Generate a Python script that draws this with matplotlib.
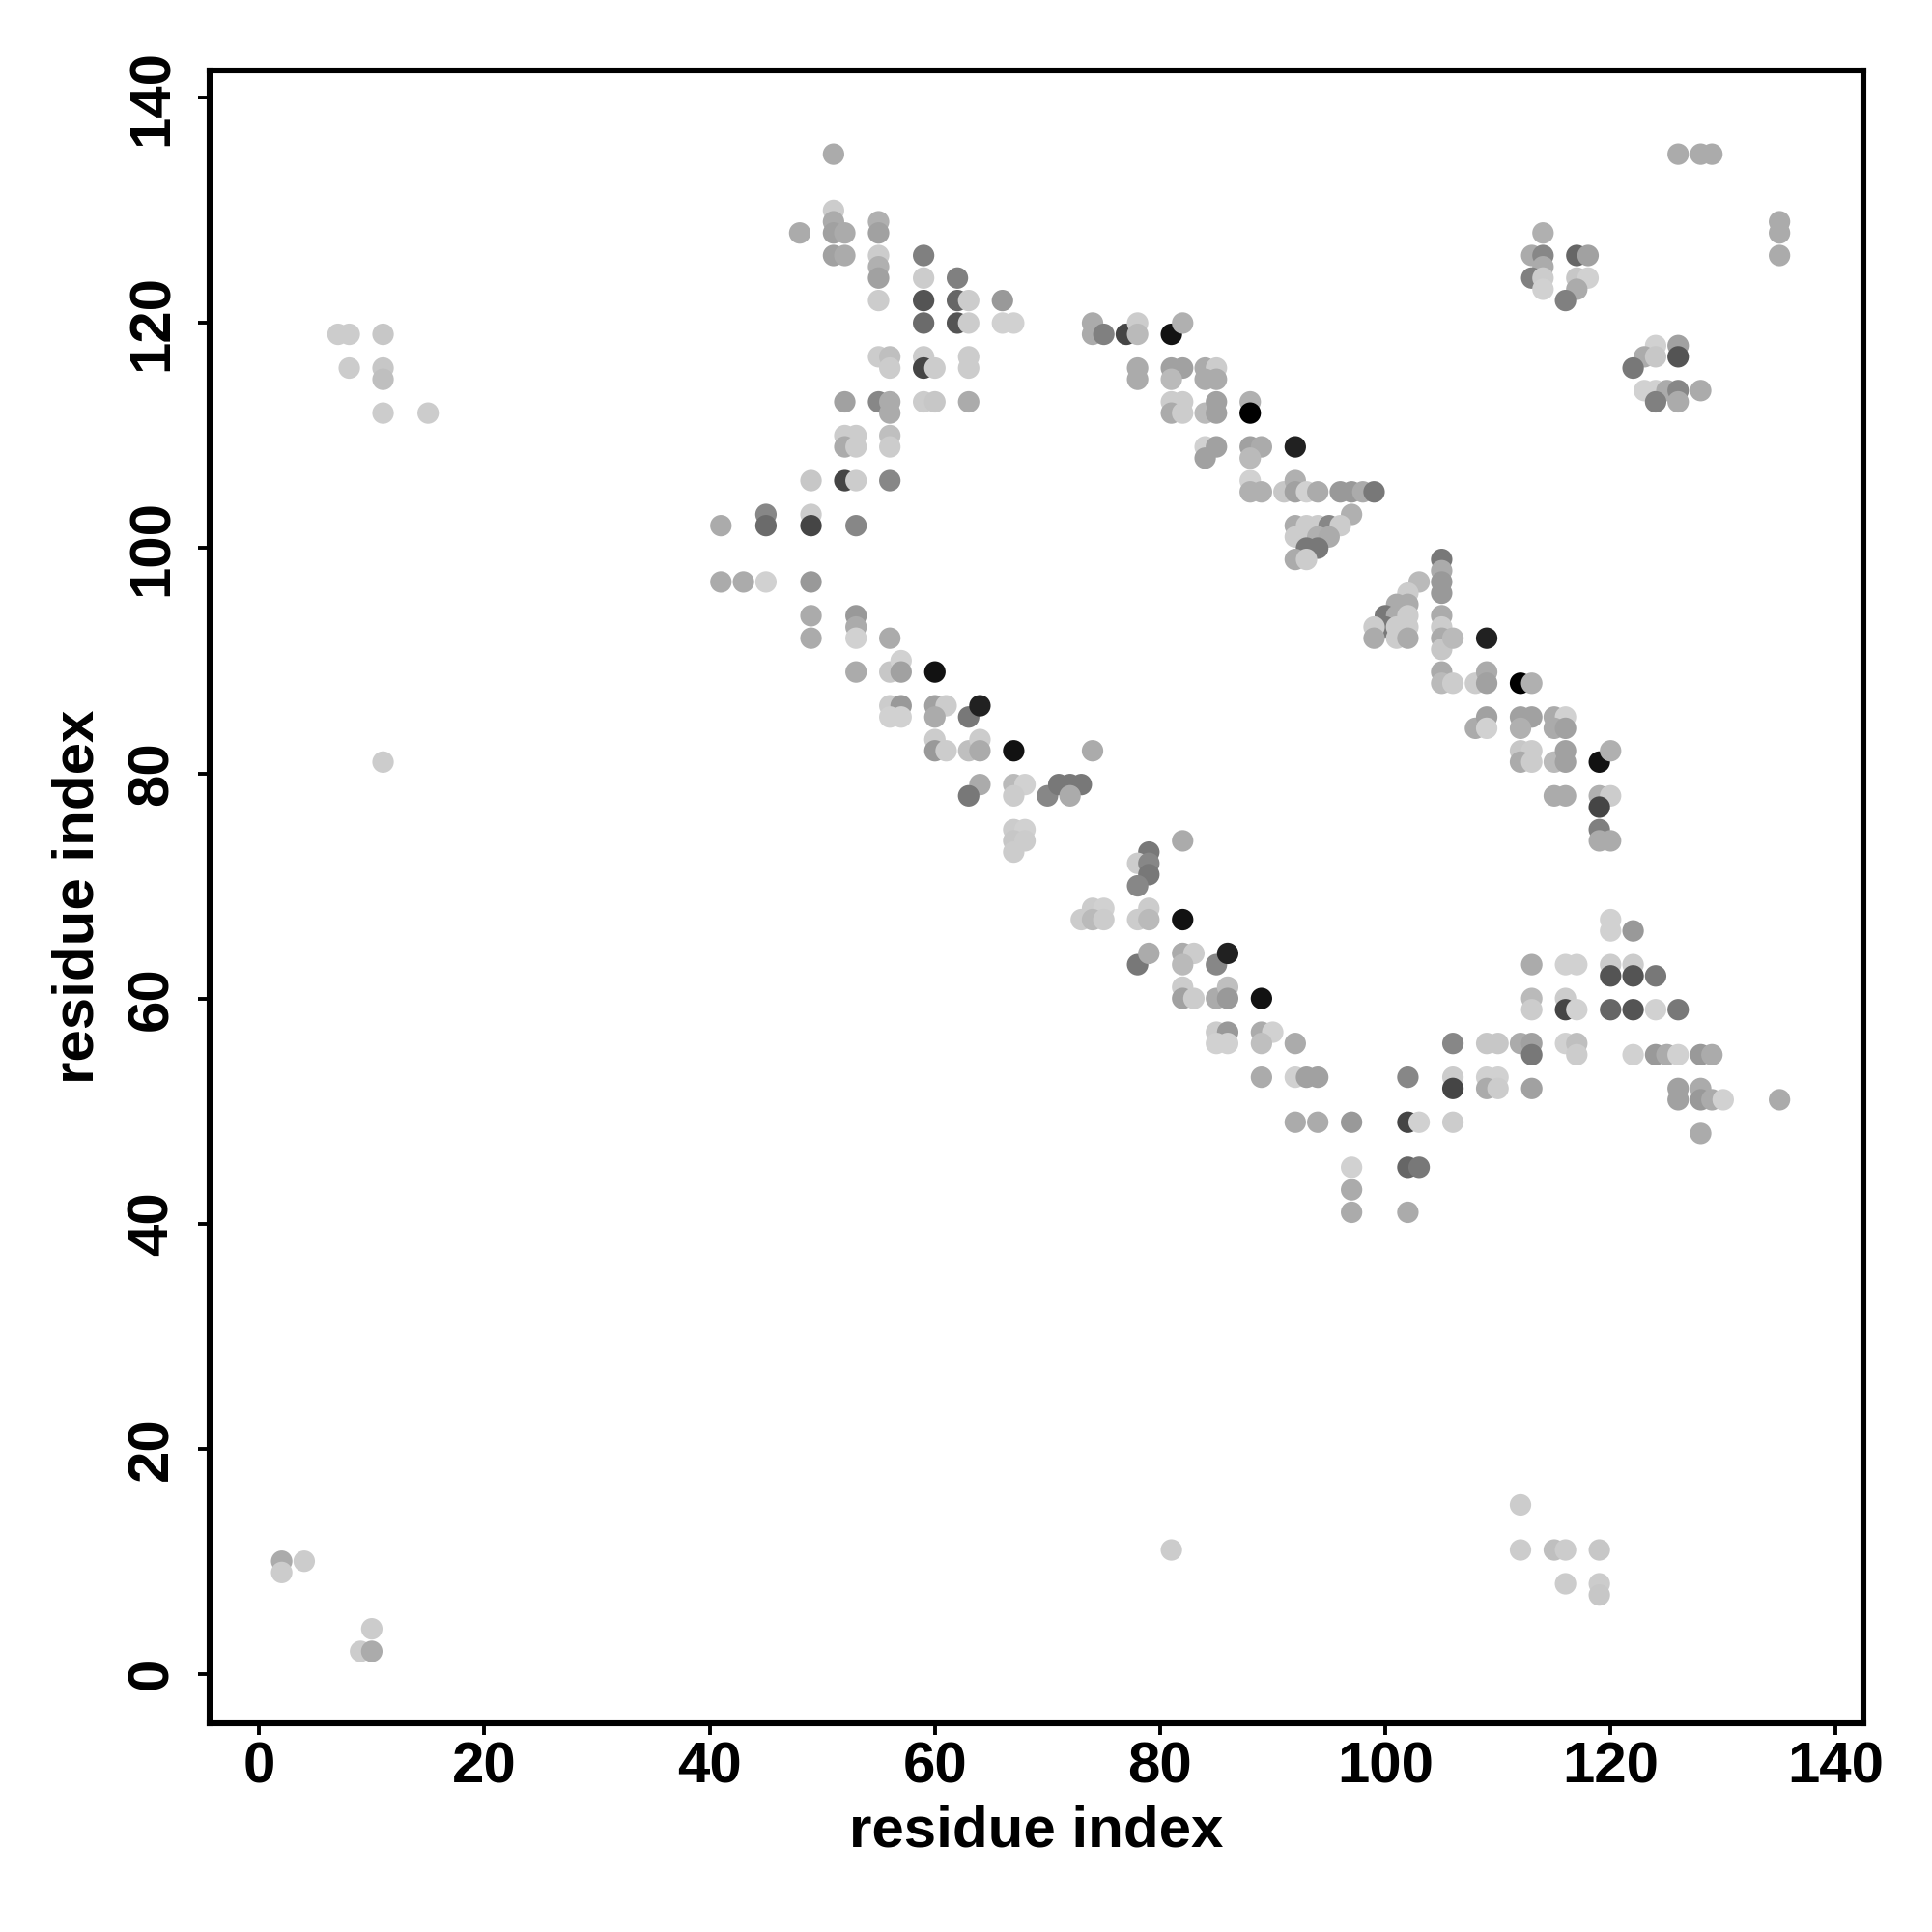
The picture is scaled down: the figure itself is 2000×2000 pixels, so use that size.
import matplotlib
matplotlib.use("Agg")
import matplotlib.pyplot as plt

# contact points: residue i (x), residue j (y), grey level (0 = black, 1 = white)
pts = [
    # upper-left block of the main band
    (51,135,.67),(51,130,.80),(51,129,.67),(51,128,.63),(48,128,.67),(52,128,.67),(55,129,.69),(55,128,.63),
    (51,126,.63),(52,126,.67),(55,126,.80),(55,125,.69),(55,124,.63),(55,122,.80),(59,126,.50),(59,124,.80),
    (62,124,.50),(59,122,.33),(62,122,.40),(63,122,.80),(66,122,.60),(59,120,.42),(62,120,.33),(63,120,.80),
    (66,120,.82),(67,120,.82),(55,117,.80),(56,117,.75),(56,116,.80),(59,117,.80),(59,116,.27),(60,116,.80),
    (63,117,.80),(63,116,.80),(52,113,.63),(55,113,.53),(56,113,.67),(56,112,.67),(59,113,.80),(60,113,.78),
    (63,113,.67),(52,110,.80),(53,110,.80),(52,109,.67),(53,109,.80),(56,110,.75),(56,109,.80),(49,106,.78),
    (52,106,.27),(53,106,.80),(56,106,.53),
    (41,102,.67),(45,103,.53),(45,102,.42),(49,103,.80),(49,102,.27),(53,102,.53),(41,97,.67),(43,97,.67),
    (45,97,.82),(49,97,.60),(49,94,.67),(49,92,.67),(53,94,.60),(53,93,.67),(53,92,.82),(56,92,.67),
    (53,89,.67),(56,89,.78),(57,90,.82),(57,89,.63),(60,89,.07),(56,86,.80),(57,86,.60),(56,85,.82),
    (57,85,.82),(60,86,.63),(61,86,.80),(60,85,.67),(63,85,.47),(64,86,.13),(60,83,.80),(60,82,.60),
    (61,82,.80),(63,82,.75),(64,83,.80),(64,82,.67),(67,82,.07),(64,79,.67),(63,78,.47),(67,79,.73),
    (68,79,.82),(67,78,.80),(70,78,.53),(71,79,.47),(72,79,.47),(73,79,.47),(72,78,.67),(67,75,.80),
    (68,75,.82),(67,74,.78),(68,74,.80),(67,73,.80),
    (74,120,.67),(74,119,.67),(75,119,.50),(77,119,.27),(78,120,.80),(78,119,.73),(81,119,.07),(82,120,.69),
    (78,116,.67),(78,115,.67),(81,116,.63),(82,116,.63),(81,115,.73),(84,116,.67),(85,116,.80),(84,115,.67),
    (85,115,.67),(81,113,.80),(82,113,.80),(81,112,.67),(82,112,.80),(84,112,.73),(85,113,.63),(85,112,.63),
    (88,113,.69),(88,112,.00),(84,109,.82),(85,109,.63),(84,108,.63),(88,109,.63),(89,109,.67),(88,108,.73),
    (92,109,.13),(88,106,.82),(88,105,.69),(89,105,.69),(91,105,.78),(92,106,.69),(92,105,.63),(93,105,.82),
    (94,105,.67),(96,105,.60),(97,105,.60),(98,105,.67),(99,105,.47),(97,103,.69),
    (92,102,.67),(93,102,.80),(94,102,.80),(95,102,.53),(96,102,.80),(92,101,.80),(93,101,.80),(94,101,.69),
    (95,101,.67),(93,100,.47),(94,100,.47),(92,99,.67),(93,99,.80),
    (105,99,.47),(105,98,.67),(105,97,.60),(105,96,.60),(103,97,.73),(102,96,.80),(102,95,.67),(101,95,.67),
    (100,94,.47),(101,94,.67),(102,94,.80),(100,93,.47),(99,93,.80),(101,93,.80),(102,93,.80),(99,92,.67),
    (101,92,.80),(102,92,.67),(105,94,.67),(105,93,.80),(105,92,.67),(105,91,.78),(105,89,.67),(105,88,.73),
    (74,82,.67),(82,74,.67),(79,73,.47),(78,72,.80),(79,72,.53),(79,71,.47),(78,70,.53),
    (106,92,.73),(109,92,.13),(106,88,.80),(108,88,.80),(109,89,.67),(109,88,.63),(112,88,.00),(113,88,.69),
    (108,84,.67),(109,85,.63),(109,84,.82),(112,85,.63),(113,85,.63),(112,84,.69),(115,85,.67),(116,85,.82),
    (115,84,.67),(116,84,.63),(112,82,.78),(113,82,.80),(112,81,.67),(113,81,.80),(115,81,.73),(116,82,.63),
    (116,81,.63),(119,81,.07),(120,82,.69),(115,78,.67),(116,78,.67),(119,78,.69),(120,78,.80),(119,77,.27),
    (119,75,.50),(119,74,.67),(120,74,.67),
    (74,68,.80),(75,68,.82),(73,67,.80),(74,67,.73),(75,67,.80),(78,67,.80),(79,68,.80),(79,67,.73),
    (82,67,.07),(78,63,.47),(79,64,.67),(82,64,.67),(83,64,.80),(82,63,.73),(85,63,.53),(86,64,.13),
    (82,61,.80),(82,60,.63),(83,60,.80),(85,60,.67),(86,61,.75),(86,60,.60),(89,60,.07),(85,57,.80),
    (86,57,.60),(85,56,.82),(86,56,.82),(89,57,.67),(90,57,.82),(89,56,.75),(92,56,.67),(89,53,.67),
    (92,53,.82),(93,53,.63),(94,53,.63),(102,53,.53),(92,49,.67),(94,49,.67),(97,49,.60),(102,49,.27),
    (103,49,.82),(97,45,.82),(97,43,.67),(97,41,.67),(102,45,.40),(103,45,.47),(102,41,.67),
    (120,67,.82),(120,66,.82),(122,66,.60),(113,63,.67),(116,63,.82),(117,63,.82),(120,63,.80),(122,63,.80),
    (120,62,.33),(122,62,.33),(124,62,.47),(113,60,.73),(113,59,.80),(116,60,.80),(116,59,.27),(117,59,.82),
    (120,59,.40),(122,59,.33),(124,59,.82),(126,59,.47),(106,56,.53),(109,56,.78),(110,56,.78),(112,56,.67),
    (113,56,.63),(113,55,.47),(116,56,.82),(117,56,.75),(117,55,.80),(122,55,.82),(124,55,.60),(125,55,.67),
    (126,55,.82),(128,55,.60),(129,55,.67),(106,53,.80),(106,52,.27),(109,53,.82),(110,53,.82),(109,52,.67),
    (110,52,.80),(113,52,.63),(126,52,.63),(126,51,.63),(128,52,.67),(128,51,.60),(129,51,.67),(130,51,.82),
    (135,51,.67),(128,48,.67),(106,49,.80),
    (126,135,.67),(128,135,.67),(129,135,.67),(135,129,.67),(135,128,.67),(135,126,.67),(114,128,.69),
    (113,126,.67),(114,126,.53),(114,125,.67),(113,124,.50),(114,124,.80),(114,123,.82),(117,126,.40),
    (118,126,.63),(117,124,.78),(118,124,.82),(117,123,.67),(116,122,.50),(124,118,.82),(126,118,.63),
    (123,117,.67),(124,117,.78),(126,117,.33),(122,116,.47),(123,114,.82),(124,114,.82),(125,114,.67),
    (126,114,.53),(128,114,.67),(124,113,.50),(126,113,.67),
    # isolated contacts
    (7,119,.80),(8,119,.80),(11,119,.78),(8,116,.80),(11,116,.78),(11,115,.75),(11,112,.80),(15,112,.80),
    (11,81,.80),(2,10,.67),(2,9,.80),(4,10,.80),(10,4,.80),(9,2,.80),(10,2,.67),
    (81,11,.80),(112,15,.80),(112,11,.80),(115,11,.75),(116,11,.80),(119,11,.78),(116,8,.80),(119,8,.80),
    (119,7,.78),
]
res_x = [p[0] for p in pts]
res_y = [p[1] for p in pts]
shade = [p[2] for p in pts]

ticks = [0, 20, 40, 60, 80, 100, 120, 140]
xlabel = "residue index"
ylabel = "residue index"

plt.rcParams['font.family'] = ['Liberation Sans', 'DejaVu Sans']
plt.rcParams['font.weight'] = 'bold'

fig = plt.figure(figsize=(10, 10), dpi=200)
ax = fig.add_axes([0.1085, 0.108, 0.856, 0.8556])
ax.scatter(res_x, res_y, s=64, c=[str(g) for g in shade], edgecolors='none', zorder=3)

ax.set_xlim(-4.4, 142.45)
ax.set_ylim(-4.4, 142.45)
ax.set_xticks(ticks)
ax.set_yticks(ticks)
ax.set_xticklabels([str(t) for t in ticks], fontsize=21.6, fontweight='bold')
ax.set_yticklabels([str(t) for t in ticks], fontsize=21.6, fontweight='bold',
                   rotation=90, va='center', ha='center')
ax.tick_params(axis='both', direction='out', length=4.2, width=1.4, color='black')
ax.tick_params(axis='x', pad=2.5)
ax.tick_params(axis='y', pad=17)
ax.set_xlabel(xlabel, fontsize=21.6, fontweight='bold', labelpad=4)
ax.set_ylabel(ylabel, fontsize=21.6, fontweight='bold', labelpad=8)
for sp in ax.spines.values():
    sp.set_linewidth(2.2)
    sp.set_color('black')

fig.savefig("out.png", dpi=200, facecolor='white')
